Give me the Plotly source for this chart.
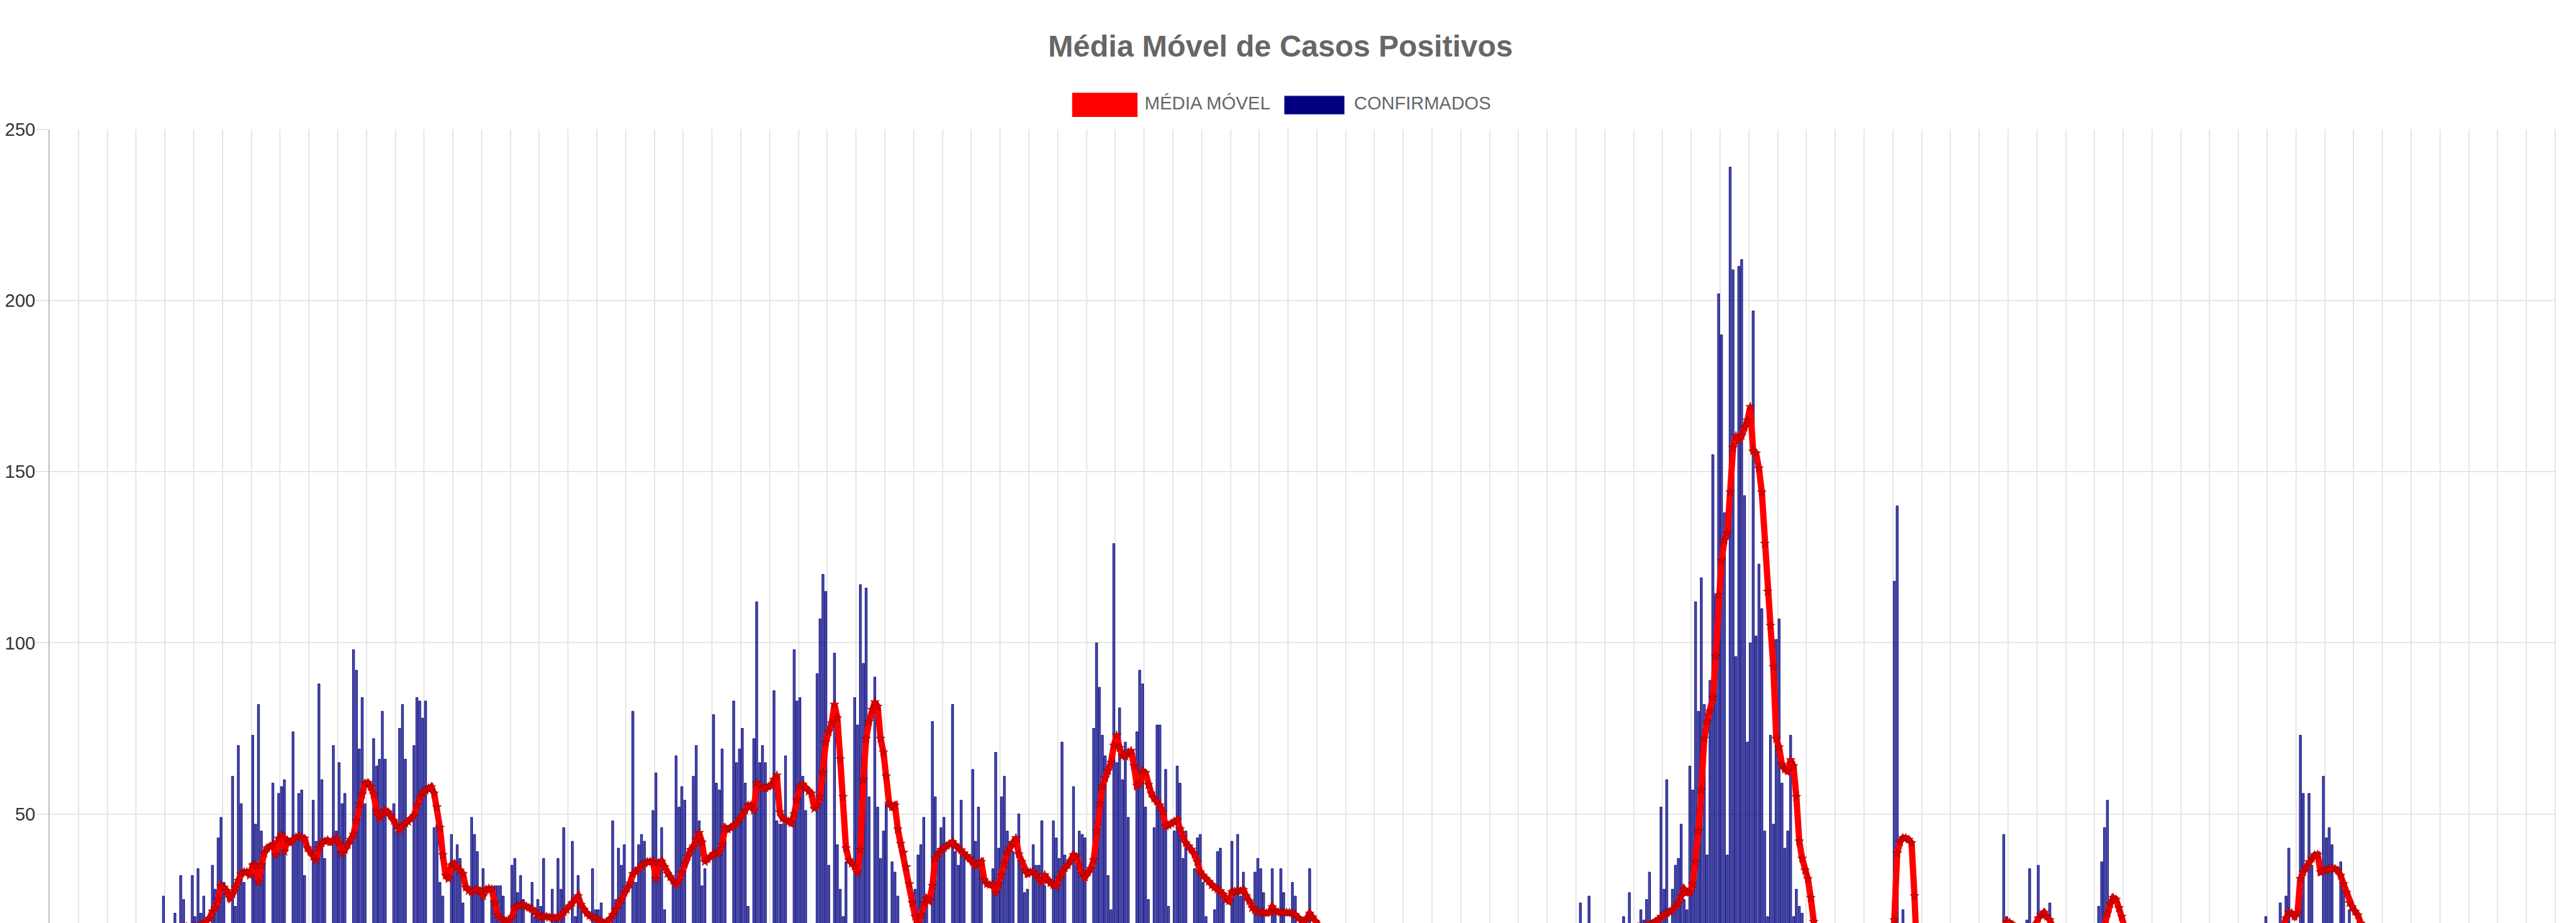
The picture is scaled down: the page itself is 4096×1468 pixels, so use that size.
import plotly.graph_objects as go
import pandas as pd

# ---------------- text / labels ----------------
titulo = "Média Móvel de Casos Positivos"
nome_media = "MÉDIA MÓVEL"
nome_confirmados = "CONFIRMADOS"
inicio = "2020-06-01"
y_ticks = [50, 100, 150, 200, 250]

# ---------------- daily confirmed cases ----------------
confirmados_2020 = [
    8, 12, 10, 9, 14, 3, 2, 11, 13, 9,
    15, 12, 4, 2, 14, 10, 16, 12, 13, 5,
    3, 15, 12, 17, 14, 11, 4, 3, 16, 13,
    15, 17, 12, 6, 4, 14, 17, 12, 16, 26,
    6, 4, 12, 21, 15, 32, 25, 8, 5, 32,
    20, 34, 21, 26, 9, 6, 35, 28, 43, 49,
    30, 12, 8, 61, 23, 70, 53, 30, 12, 9,
    73, 47, 82, 45, 38, 14, 10, 59, 40, 56,
    58, 60, 16, 12, 74, 42, 56, 57, 32, 14,
    11, 54, 42, 88, 60, 37, 15, 12, 70, 45,
    65, 53, 56, 16, 13, 98, 92, 69, 84, 53,
    17, 14, 72, 64, 66, 80, 66, 18, 15, 53,
    45, 75, 82, 66, 17, 14, 70, 84, 83, 78,
    83, 17, 15, 46, 47, 30, 26, 12, 10, 44,
    35, 41, 37, 24, 12, 9, 49, 44, 39, 28,
    34, 13, 10, 27, 29, 29, 29, 26, 11, 9,
    35, 37, 27, 32, 25, 10, 8, 30, 20, 25,
    23, 37, 11, 9, 28, 20, 37, 28, 46, 12,
    9, 42, 20, 32, 22, 18, 10, 8, 34, 22,
    22, 24, 15, 9, 7, 48, 25, 40, 35, 41,
    12, 9, 80, 30, 41, 44, 42, 13, 10, 51,
]
confirmados_2021 = [
    62, 35, 46, 22, 11, 9, 30, 67, 52, 58,
    54, 14, 11, 61, 70, 48, 29, 34, 13, 10,
    79, 59, 57, 69, 45, 14, 11, 83, 65, 69,
    75, 59, 23, 10, 72, 112, 65, 70, 65, 12,
    9, 86, 48, 47, 47, 67, 12, 10, 98, 83,
    84, 61, 51, 14, 11, 16, 91, 107, 120, 115,
    35, 15, 97, 41, 28, 20, 36, 13, 10, 84,
    76, 117, 94, 116, 55, 14, 90, 52, 37, 45,
    53, 14, 36, 33, 26, 17, 15, 8, 6, 12,
    28, 38, 41, 49, 25, 12, 77, 55, 39, 46,
    49, 13, 10, 82, 39, 35, 54, 38, 14, 11,
    63, 42, 52, 36, 13, 10, 15, 34, 68, 40,
    55, 61, 45, 42, 39, 12, 50, 35, 27, 28,
    14, 41, 35, 35, 48, 29, 12, 10, 48, 43,
    37, 71, 38, 13, 10, 58, 35, 45, 44, 43,
    14, 11, 75, 100, 87, 73, 67, 32, 22, 129,
    65, 81, 60, 71, 49, 15, 12, 74, 92, 88,
    52, 25, 14, 46, 76, 76, 50, 63, 23, 13,
    45, 64, 59, 37, 45, 12, 10, 34, 43, 44,
    30, 20, 10, 8, 22, 39, 40, 25, 15, 12,
    42, 28, 44, 26, 33, 15, 10, 18, 33, 37,
    34, 27, 12, 10, 34, 22, 17, 34, 27, 12,
    10, 30, 26, 16, 15, 14, 8, 34, 14, 10,
    15, 13, 12, 16, 9, 4, 3, 14, 12, 15,
    11, 10, 4, 2, 13, 11, 9, 12, 8, 3,
    2, 10, 9, 12, 7, 8, 3, 2, 9, 11,
    8, 6, 7, 2, 1, 8, 6, 9, 5, 6,
    2, 1, 7, 5, 4, 6, 8, 2, 1, 6,
    9, 5, 7, 4, 2, 1, 5, 7, 6, 8,
    4, 2, 1, 6, 4, 8, 5, 7, 2, 1,
    7, 9, 6, 10, 8, 3, 2, 11, 9, 12,
    8, 10, 3, 2, 12, 14, 11, 16, 13, 4,
    3, 24, 15, 13, 26, 14, 5, 3, 17, 16,
    14, 18, 12, 4, 3, 16, 20, 15, 27, 13,
    5, 4, 22, 19, 25, 33, 18, 8, 6, 52,
    28, 60, 15, 28, 35, 37, 47, 25, 22, 64,
]
confirmados_2022 = [
    57, 112, 80, 119, 82, 38, 89, 155, 114, 202,
    190, 138, 38, 239, 209, 96, 210, 212, 143, 71,
    100, 197, 102, 123, 110, 45, 20, 73, 47, 101,
    107, 59, 40, 45, 73, 20, 28, 23, 21, 12,
    10, 15, 8, 9, 12, 4, 3, 10, 8, 11,
    9, 7, 2, 2, 8, 10, 7, 9, 6, 3,
    2, 9, 8, 6, 10, 7, 2, 1, 8, 12,
    118, 140, 6, 22, 9, 3, 2, 5, 6, 4,
    7, 3, 1, 1, 5, 4, 6, 3, 2, 1,
    4, 6, 3, 5, 2, 1, 1, 4, 5, 3,
    6, 2, 1, 1, 5, 3, 4, 7, 44, 20,
    6, 2, 1, 9, 7, 12, 19, 34, 10, 3,
    35, 14, 8, 12, 24, 6, 2, 5, 8, 6,
    4, 3, 1, 1, 6, 5, 4, 7, 9, 3,
    2, 23, 36, 46, 54, 12, 4, 2, 6, 8,
    5, 3, 1, 1, 4, 6, 3, 5, 2, 1,
    1, 4, 3, 5, 2, 6, 1, 1, 3, 4,
    5, 2, 3, 1, 1, 4, 6, 3, 5, 4,
    2, 1, 7, 5, 4, 8, 6, 2, 1, 9,
    7, 10, 8, 6, 3, 2, 11, 9, 12, 20,
    8, 3, 2, 14, 24, 13, 26, 40, 9, 6,
    17, 73, 56, 14, 56, 35, 10, 8, 15, 61,
    43, 46, 41, 12, 9, 36, 30, 12, 22, 5,
    3, 8, 6, 4, 5, 2, 1, 6, 5, 3,
    4, 7, 1, 1, 3, 5, 2, 4, 6, 1,
    1, 3, 4, 2, 5, 3, 1, 1, 2, 4,
    3, 2, 5, 1, 1, 2, 3, 4, 2, 1,
    1, 1, 3, 2, 4, 2, 1, 1, 1, 2,
    3, 1, 2, 1, 1, 2, 1, 3, 2, 1,
    1, 1, 2, 1, 3, 1, 2, 1, 1, 2,
]

# ---------------- moving average ----------------
media_2020 = [
    8, 8, 9, 9, 9, 9, 10, 10, 10, 10,
    11, 11, 11, 11, 11, 11, 12, 12, 12, 12,
    12, 12, 12, 12, 13, 13, 13, 13, 13, 13,
    13, 13, 13, 13, 13, 13, 13, 14, 14, 14,
    14, 14, 15, 15, 16, 16, 17, 17, 16, 17,
    17, 17, 17.5, 18, 18.5, 19.5, 21.5, 22.5, 25, 29,
    28.5, 27.5, 25.5, 26.5, 28.5, 30.5, 32.5, 33, 33, 32,
    35, 35, 30, 35, 38.5, 40, 40.5, 41, 38, 42.8,
    43.9, 39, 42.3, 41.7, 42.5, 43.2, 43.4, 43.2, 42.8, 40,
    39, 37.5, 36.5, 40, 41.5, 42, 42.3, 41.7, 42.3, 42.8,
    41.5, 38.5, 39.5, 41, 42.5, 44, 48, 52.9, 55.7, 59,
    59.1, 57.9, 55.7, 50.7, 49, 50, 51, 50.5, 49.5, 48,
    46.5, 45.5, 46.5, 47.2, 47.7, 48.5, 49.5, 52.5, 55, 56.2,
    56.8, 57.5, 57.9, 56, 52, 46, 38, 32, 31, 35,
    35.5, 34.5, 33.5, 32.5, 28.5, 27.5, 27.2, 27.7, 28, 27.5,
    26, 27.9, 28.2, 28, 24, 20.5, 19.6, 19, 18.7, 19,
    19.8, 22.6, 23.2, 23.4, 23.4, 23, 22.6, 22.2, 21.5, 20.5,
    19.8, 20.1, 20, 19.7, 19.5, 19.5, 19.7, 20.3, 21.3, 22,
    23, 24, 25, 26, 23.5, 22, 21, 20.2, 19.8, 19.5,
    19, 18.6, 18.2, 18.5, 19.2, 20.5, 22, 23.5, 25, 27,
    28.2, 29.7, 32.5, 33.3, 34, 35, 35.6, 36, 36.1, 36.1,
]
media_2021 = [
    31, 35.8, 36.1, 34.5, 32.5, 31.6, 30.5, 29.5, 30.5, 32.8,
    35.5, 37.5, 39.5, 40.5, 42.5, 44.5, 41.7, 36, 36.8, 37.5,
    38.3, 38.3, 39, 41, 46, 45.5, 46, 46.5, 47.3, 48.5,
    49.5, 51, 52.5, 52.5, 51, 59, 58.3, 57.5, 57.5, 58,
    58.3, 60, 61.3, 50.5, 48.7, 48.2, 47.8, 47.3, 50, 54,
    58, 58.6, 57.5, 56.5, 56, 51.5, 52.5, 55, 62, 71,
    74, 76.5, 82, 78, 66, 55, 40, 36.5, 35.5, 34.7,
    32.7, 39.5, 60, 72, 77, 80.5, 82.7, 81.4, 72, 68,
    61, 53, 52, 52.5, 45.5, 41.3, 38.7, 34.5, 29.5, 24,
    20, 18, 20.5, 24, 25.3, 24.7, 29, 37, 38.5, 39.5,
    40, 40.7, 41.2, 41.8, 40.8, 40, 39.4, 38.5, 37.7, 37,
    36, 35, 35.5, 36, 30.7, 29.5, 29.3, 29.3, 27, 29.5,
    32, 35.5, 38.7, 40, 41.5, 43, 38.2, 36, 33.5, 32.5,
    33, 33, 32.2, 31, 30, 32.2, 30.5, 29.8, 29.2, 29,
    31.2, 33, 34.2, 35, 36.2, 38, 37.5, 35, 32.5, 31.5,
    33, 34, 36.5, 45, 53, 58, 60.5, 62.6, 65, 70,
    73, 69.3, 67, 66.8, 68, 68.5, 64, 58.3, 58.8, 62.5,
    62, 58.5, 56, 54.5, 53.7, 52.5, 50.6, 46.4, 46.7, 47.2,
    47.8, 48.2, 45.6, 43.2, 41.5, 40.5, 39.6, 38.2, 36, 33,
    32, 31, 30.2, 29.2, 28.5, 28, 27.5, 26.5, 25, 24.5,
    27.2, 27.4, 27.4, 27.4, 27.8, 26, 24.5, 22.5, 21.8, 21.5,
    21.2, 21.2, 21, 21.2, 22.8, 21.6, 21.3, 21.2, 21.2, 21.2,
    21.2, 21, 20.5, 19.5, 18.7, 18.2, 19.5, 20.9, 19.8, 18.5,
    17.5, 16.5, 16, 15.5, 15, 14, 13.5, 13, 12.5, 12,
    11.5, 11, 10.5, 10, 10, 9.5, 9, 9, 8.5, 8,
    8, 8, 7.5, 7.5, 7, 7, 6.5, 6.5, 6, 6,
    6, 5.5, 5.5, 5, 5, 5, 4.5, 4.5, 4.5, 4.5,
    4.5, 4.5, 4.5, 4.5, 4.5, 4.5, 4.5, 4.5, 5, 5,
    5, 5, 5, 5, 5, 5, 5, 5, 5, 5,
    5, 5, 5, 5, 5, 5, 5, 5, 5, 5,
    5.5, 6, 6, 6.5, 7, 7, 7, 7.5, 8, 8.5,
    9, 9, 9, 9, 9.5, 10, 10.5, 11, 11, 11,
    11, 12, 12, 13, 14, 14, 14, 14, 14, 14,
    14, 14.5, 15, 15, 15, 15, 15.5, 16, 16, 16.5,
    16.5, 17, 17, 17, 17.5, 17.5, 18, 18.5, 19, 20,
    20.5, 21, 21.4, 22, 22.9, 24, 26, 28, 27, 27,
]
media_2022 = [
    29.5, 36, 45, 57, 72, 77, 80, 84, 96, 114,
    124, 130, 132, 144, 157, 160.5, 159, 160.5, 163, 165,
    169, 156, 155.4, 151, 144, 129, 115, 105, 93, 72,
    69.5, 64.4, 63, 62.5, 65.8, 64, 55, 42, 37, 33.5,
    31, 25.5, 18.5, 12, 10, 9, 8.5, 8, 8, 7.5,
    7.5, 7, 7, 6.5, 6.5, 6, 6, 6, 6, 6,
    6, 6, 6, 6, 6, 6, 6, 6, 6, 7,
    19, 38.5, 41.8, 43, 43, 42.5, 41.5, 26, 6, 5,
    5, 4.5, 4, 4, 4, 4, 4, 3.5, 3.5, 3.5,
    3.5, 3.5, 3.5, 3.5, 3.5, 3.5, 3.5, 3.5, 3.5, 3.5,
    3.5, 3.5, 3.5, 3.5, 3.5, 3.5, 3.5, 4, 10, 18.5,
    18.3, 17.5, 17, 16.5, 16, 15, 12, 16, 17, 17.5,
    19.5, 20.5, 21.2, 20, 19, 17, 15, 14, 10, 6,
    5, 4.5, 4, 4, 4, 4, 4, 4, 4, 4.5,
    5, 8, 13, 17.5, 21, 23.7, 25.5, 25, 22.5, 20,
    17, 14, 10, 5, 4, 4, 4, 4, 3.5, 3.5,
    3.5, 3.5, 3.5, 3.5, 3.5, 3.5, 3.5, 3.5, 3.5, 3.5,
    3.5, 3.5, 3.5, 3.5, 3.5, 3.5, 3.5, 3.5, 3.5, 3.5,
    4, 4, 4, 4, 4.5, 4.5, 4.5, 4.5, 5, 5,
    5.5, 6, 6.5, 7, 7, 7.5, 8, 8.5, 9, 10,
    11, 11.5, 12, 13.5, 16, 17, 19.5, 21.2, 21, 20,
    21, 31, 33, 34.5, 36, 37, 38, 38.1, 33, 33.5,
    33.5, 34, 34, 34, 33.5, 32, 29.5, 27, 24, 22.8,
    21.5, 20.4, 18, 15, 12, 10, 8, 6, 5, 4.5,
    4, 3.5, 3.5, 3, 3, 3, 3, 3, 3, 3,
    3, 3, 3, 3, 3, 3, 3, 2.5, 2.5, 2.5,
    2.5, 2.5, 2.5, 2.5, 2.5, 2.5, 2.5, 2.5, 2.5, 2,
    2, 2, 2, 2, 2, 2, 2, 2, 2, 2,
    2, 2, 2, 2, 2, 2, 1.5, 1.5, 1.5, 1.5,
    1.5, 1.5, 1.5, 1.5, 1.5, 1.5, 1.5, 1.5, 1.5, 1.5,
]

confirmados = confirmados_2020 + confirmados_2021 + confirmados_2022
media = media_2020 + media_2021 + media_2022
n = min(len(confirmados), len(media))
confirmados = confirmados[:n]
media = media[:n]
datas = [d.strftime("%d/%m/%Y") for d in pd.date_range(inicio, periods=n, freq="D")]

# ---------------- geometry ----------------
# the page body has an 8px default margin, so the figure is drawn 8px smaller
OFF = 8
WIN_W, WIN_H = 4096, 1468
W, H = WIN_W - OFF, WIN_H - OFF
# plot area in window pixels: x 74.6 .. 4062.6, y 206 .. 1468
ML = 74.6 - OFF
MT = 206.0 - OFF
MR = WIN_W - 4062.6
MB = 0.0
PW = W - ML - MR
PH = H - MT - MB
FONT = "Liberation Sans, Arial, Helvetica, sans-serif"
GRID = "#e6e6e6"


def px_x(px):
    # window pixel -> paper x
    return (px - OFF - ML) / PW


def px_y(py):
    # window pixel -> paper y
    return (H - MB - (py - OFF)) / PH


fig = go.Figure()
fig.add_trace(go.Bar(
    x=datas, y=confirmados, name=nome_confirmados,
    marker=dict(color="rgba(0,0,128,0.70)", line=dict(color="rgba(0,0,128,0.9)", width=1)),
    showlegend=False,
))
fig.add_trace(go.Scatter(
    x=datas, y=media, name=nome_media, mode="lines+markers",
    line=dict(color="#ff0000", width=10),
    marker=dict(symbol="star", size=11, color="#dd0000",
                line=dict(color="rgba(120,0,0,0.5)", width=1)),
    showlegend=False,
))

grid_pos = [k - 0.5 for k in range(0, n + 1, 10)]

shapes = [
    dict(type="line", xref="paper", yref="paper", x0=1, x1=1, y0=0, y1=1,
         line=dict(color=GRID, width=2), layer="below"),
    dict(type="rect", xref="paper", yref="paper",
         x0=px_x(1702), x1=px_x(1806), y0=px_y(186.1), y1=px_y(147.4),
         fillcolor="#ff0000", line=dict(width=0)),
    dict(type="rect", xref="paper", yref="paper",
         x0=px_x(2040), x1=px_x(2135), y0=px_y(181.6), y1=px_y(152.8),
         fillcolor="#000080", line=dict(color="#3a3a9a", width=1)),
]
annotations = [
    dict(text=nome_media, xref="paper", yref="paper", x=px_x(1815), y=px_y(163.5),
         xanchor="left", yanchor="middle", showarrow=False,
         font=dict(family=FONT, size=29, color="#666666")),
    dict(text=nome_confirmados, xref="paper", yref="paper", x=px_x(2149), y=px_y(163.5),
         xanchor="left", yanchor="middle", showarrow=False,
         font=dict(family=FONT, size=29, color="#666666")),
]

fig.update_layout(
    width=W, height=H,
    margin=dict(l=ML, r=MR, t=MT, b=MB, pad=0),
    paper_bgcolor="white", plot_bgcolor="white",
    bargap=0.28,
    showlegend=False,
    title=dict(text=titulo, x=(2036 - OFF) / W, xref="container", xanchor="center",
               y=1 - (72.8 - OFF) / H, yref="container", yanchor="middle",
               font=dict(family=FONT, size=48, color="#666666", weight="bold")),
    xaxis=dict(type="category", range=[-0.5, n - 0.5],
               tickmode="array", tickvals=grid_pos, showticklabels=False, ticks="",
               showgrid=True, gridcolor=GRID, gridwidth=2,
               showline=False, zeroline=False, fixedrange=True),
    yaxis=dict(range=[18.13, 250], tickmode="array", tickvals=y_ticks,
               ticks="outside", ticklen=20, tickwidth=2, tickcolor=GRID,
               ticklabelstandoff=-5,
               showgrid=True, gridcolor=GRID, gridwidth=2, zeroline=False,
               showline=True, linecolor="#bfbfbf", linewidth=2,
               tickfont=dict(family=FONT, size=29, color="#333333"),
               fixedrange=True),
    shapes=shapes,
    annotations=annotations,
)

fig.write_html("out.html")
